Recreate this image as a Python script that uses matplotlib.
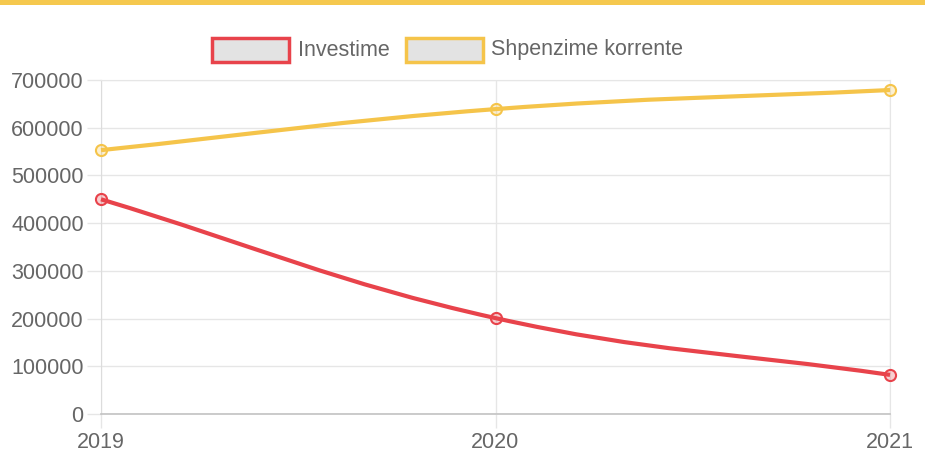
import numpy as np
import matplotlib
matplotlib.use("Agg")
import matplotlib.pyplot as plt
from matplotlib.path import Path
from matplotlib.patches import PathPatch, Rectangle
from matplotlib.transforms import IdentityTransform

years = ["2019", "2020", "2021"]
investime = [450000, 201000, 82000]
shpenzime = [553000, 639000, 679000]
series_names = ["Investime", "Shpenzime korrente"]
series_colors = ["#e8434b", "#f5c44a"]
yticks = [0, 100000, 200000, 300000, 400000, 500000, 600000, 700000]

W, H = 925, 474
plt.rcParams['font.family'] = ['Liberation Sans', 'DejaVu Sans']
fig = plt.figure(figsize=(W / 100, H / 100), dpi=100)
fig.patch.set_facecolor("white")

left, right, bottom, top = 101, 890, 414, 80
ax = fig.add_axes([left / W, 1 - bottom / H, (right - left) / W, (bottom - top) / H])
x = np.arange(len(years))
ax.set_xlim(0, len(years) - 1)
ax.set_ylim(0, 700000)
ax.set_yticks(yticks)
ax.set_yticklabels([str(v) for v in yticks])
ax.set_xticks(x)
ax.set_xticklabels(years)
grid_c = "#e6e6e6"
ax.grid(True, color=grid_c, linewidth=1)
ax.set_axisbelow(True)
for s in ["top", "right"]:
    ax.spines[s].set_color(grid_c)
ax.spines["left"].set_color("#dcdcdc")
ax.spines["bottom"].set_color("#c2c2c2")
ax.spines["bottom"].set_linewidth(1.2)
ax.tick_params(axis="both", colors=grid_c, labelcolor="#666666", labelsize=15.5,
               length=10, width=1, pad=2.5)
ax.tick_params(axis="x", pad=3)


def smooth_path(xs, ys, tension=0.4):
    pts = ax.transData.transform(np.column_stack([xs, ys]))
    n = len(pts)
    cps = []
    for i in range(n):
        prev = pts[i - 1] if i > 0 else pts[i]
        cur = pts[i]
        nxt = pts[i + 1] if i < n - 1 else pts[i]
        d01 = np.hypot(*(cur - prev))
        d12 = np.hypot(*(nxt - cur))
        tot = d01 + d12
        s01 = d01 / tot if tot else 0
        s12 = d12 / tot if tot else 0
        cps.append((cur - tension * s01 * (nxt - prev), cur + tension * s12 * (nxt - prev)))
    verts = [pts[0]]
    codes = [Path.MOVETO]
    for i in range(n - 1):
        verts += [cps[i][1], cps[i + 1][0], pts[i + 1]]
        codes += [Path.CURVE4] * 3
    return Path(verts, codes)


fig.canvas.draw()
for vals, col in zip([investime, shpenzime], series_colors):
    p = smooth_path(x, vals)
    ax.add_patch(PathPatch(p, transform=IdentityTransform(), facecolor="none",
                           edgecolor=col, linewidth=3, zorder=3, clip_on=False))
    ax.plot(x, vals, linestyle="none", marker="o", markersize=8,
            markerfacecolor=matplotlib.colors.to_rgba(col, 0.25),
            markeredgecolor=col, markeredgewidth=1.5, zorder=4, clip_on=False)

# top border band
fig.patches.append(Rectangle((0, 1 - 5 / H), 1, 5 / H, transform=fig.transFigure,
                             facecolor="#f5c84e", edgecolor="none"))

# legend
leg_items = [(212, 298), (406, 491)]
for (bx, tx), name, col in zip(leg_items, series_names, series_colors):
    fig.patches.append(Rectangle((bx / W, 1 - 62 / H), 77 / W, 24 / H,
                                 transform=fig.transFigure, facecolor="#e3e3e3",
                                 edgecolor=col, linewidth=2.5))
    fig.text(tx / W, 1 - 50 / H, name, fontsize=15.5, color="#666666",
             va="center", ha="left")

fig.savefig("out.png", dpi=100, facecolor="white")
